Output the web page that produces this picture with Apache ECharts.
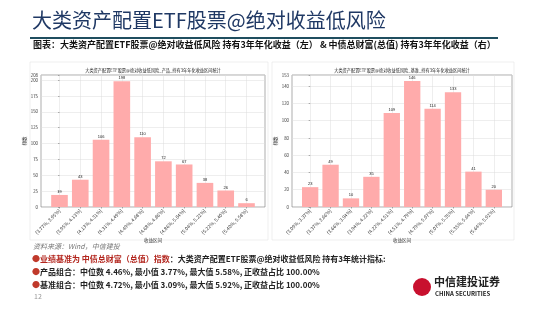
<!DOCTYPE html>
<html><head><meta charset="utf-8">
<script src="https://cdn.jsdelivr.net/npm/echarts@6/dist/echarts.min.js"></script>
<style>html,body{margin:0;padding:0;background:#fff}#c{width:550px;height:309px}</style>
</head><body><div id="c"></div>
<script>
const leftCategories = ['(3.77%, 3.95%]','(3.95%, 4.13%]','(4.13%, 4.31%]','(4.31%, 4.49%]','(4.49%, 4.68%]','(4.68%, 4.86%]','(4.86%, 5.04%]','(5.04%, 5.22%]','(5.22%, 5.40%]','(5.40%, 5.58%]'];
const leftCounts = [19, 43, 106, 198, 110, 72, 67, 38, 26, 6];
const rightCategories = ['(3.09%, 3.37%]','(3.37%, 3.66%]','(3.66%, 3.94%]','(3.94%, 4.22%]','(4.22%, 4.51%]','(4.51%, 4.79%]','(4.79%, 5.07%]','(5.07%, 5.35%]','(5.35%, 5.64%]','(5.64%, 5.92%]'];
const rightCounts = [23, 49, 10, 35, 109, 146, 114, 133, 41, 20];
const leftYMax = 208, leftYStep = 25;
const rightYMax = 153, rightYStep = 20;
const titleText = '大类资产配置ETF股票@绝对收益低风险';
const subtitleText = '图表：大类资产配置ETF股票@绝对收益低风险 持有3年年化收益（左） & 中债总财富(总值) 持有3年年化收益（右）';
const leftChartTitle = '大类资产配置ETF股票@绝对收益低风险_产品_持有3年年化收益区间统计';
const rightChartTitle = '大类资产配置ETF股票@绝对收益低风险_基准_持有3年年化收益区间统计';
const xName = '收益区间', yName = '频数';

const chart = echarts.init(document.getElementById('c'), null, {renderer:'canvas'});
const FONT = '"Noto Sans CJK SC", "Liberation Sans", sans-serif';
const idx = Array.from({length:10}, (_, i) => i);

function xAxisCfg(gi, cats) {
  return {
    type:'value', gridIndex: gi, min:-0.89, max:9.89,
    name: xName, nameLocation:'middle', nameGap: 29,
    nameTextStyle:{fontSize:4.5, color:'#333', fontFamily:FONT},
    axisLine:{show:false},
    axisTick:{show:true, length:1.5, customValues: idx, lineStyle:{color:'#666', width:0.5}},
    axisLabel:{customValues: idx, rotate:45, fontSize:4.8, color:'#333', margin:3, fontFamily:FONT,
      formatter: v => cats[Math.round(v)]},
    splitLine:{show:true, lineStyle:{color:'#ddd', width:0.5}}
  };
}
function yAxisCfg(gi, max, step) {
  return {
    type:'value', gridIndex: gi, min:0, max:max, interval:step,
    name: yName, nameLocation:'middle', nameGap: 14, nameRotate: 90,
    nameTextStyle:{fontSize:4.5, color:'#333', fontFamily:FONT},
    axisLine:{show:false},
    axisTick:{show:true, length:1.5, lineStyle:{color:'#666', width:0.5}},
    axisLabel:{fontSize:4.3, color:'#333', margin:3, fontFamily:FONT},
    splitLine:{show:true, lineStyle:{color:'#ddd', width:0.5}}
  };
}
function barSeries(gi, counts) {
  return {
    type:'bar', xAxisIndex: gi, yAxisIndex: gi, barWidth:'80%',
    data: counts.map((v, i) => [i, v]),
    itemStyle:{color:'#ffabab'},
    label:{show:true, position:'top', distance:1, fontSize:4, color:'#222', formatter: p => p.value[1]},
    silent:true
  };
}

const option = {
  animation:false,
  backgroundColor:'#fff',
  grid:[
    {left:41, right:550-265, top:75, bottom:102, show:true, borderColor:'#777', borderWidth:0.6, backgroundColor:'transparent'},
    {left:292, right:550-512, top:75, bottom:102, show:true, borderColor:'#777', borderWidth:0.6, backgroundColor:'transparent'}
  ],
  xAxis:[xAxisCfg(0, leftCategories), xAxisCfg(1, rightCategories)],
  yAxis:[yAxisCfg(0, leftYMax, leftYStep), yAxisCfg(1, rightYMax, rightYStep)],
  series:[barSeries(0, leftCounts), barSeries(1, rightCounts)],
  graphic:[
    {type:'text', left:32, top:10, style:{text:titleText, fontSize:20, fontFamily:FONT, fill:'#1f3864', fontWeight:'normal'}},
    {type:'rect', shape:{x:30, y:37, width:468, height:2}, style:{fill:'#1f4e5f'}},
    {type:'text', left:33, top:40, style:{text:subtitleText, fontSize:9, fontWeight:'bold', fontFamily:FONT, fill:'#111'}},
    {type:'rect', shape:{x:30, y:62, width:238, height:178}, style:{fill:'none', stroke:'#e4e4e4', lineWidth:0.6}},
    {type:'rect', shape:{x:272, y:62, width:242, height:178}, style:{fill:'none', stroke:'#e4e4e4', lineWidth:0.6}},
    {type:'text', x:153, y:70, style:{text:leftChartTitle, fontSize:4.2, fontFamily:FONT, fill:'#222', align:'center', verticalAlign:'middle'}},
    {type:'text', x:402, y:70, style:{text:rightChartTitle, fontSize:4.2, fontFamily:FONT, fill:'#222', align:'center', verticalAlign:'middle'}},
    {type:'text', left:33, top:243, style:{text:'资料来源：Wind，中信建投', fontSize:7, fontStyle:'italic', fontFamily:FONT, fill:'#777'}},
    {type:'text', left:32, top:255, style:{
      text:'{b|●}{r|业绩基准为 中债总财富（总值）指数}{k|：大类资产配置ETF股票@绝对收益低风险 持有3年统计指标:}',
      rich:{
        b:{fontSize:8, fill:'#c0392b', fontFamily:FONT},
        r:{fontSize:8, fontWeight:'bold', fill:'#b3261e', fontFamily:FONT},
        k:{fontSize:8, fontWeight:'bold', fill:'#222', fontFamily:FONT}
      }}},
    {type:'text', left:32, top:268, style:{
      text:'{b|●}{k|产品组合：中位数 4.46%, 最小值 3.77%, 最大值 5.58%, 正收益占比 100.00%}',
      rich:{b:{fontSize:8, fill:'#c0392b', fontFamily:FONT}, k:{fontSize:8, fontWeight:'bold', fill:'#222', fontFamily:FONT}}}},
    {type:'text', left:32, top:281, style:{
      text:'{b|●}{k|基准组合：中位数 4.72%, 最小值 3.09%, 最大值 5.92%, 正收益占比 100.00%}',
      rich:{b:{fontSize:8, fill:'#c0392b', fontFamily:FONT}, k:{fontSize:8, fontWeight:'bold', fill:'#222', fontFamily:FONT}}}},
    {type:'text', left:34, top:293, style:{text:'12', fontSize:7, fontFamily:FONT, fill:'#999'}},
    {type:'circle', shape:{cx:422, cy:287, r:9}, style:{fill:'#c8102e'}},
    {type:'text', left:434, top:276, style:{text:'中信建投证券', fontSize:11, fontWeight:'bold', fontFamily:FONT, fill:'#222'}},
    {type:'text', left:435, top:291, style:{text:'CHINA SECURITIES', fontSize:6, fontWeight:'bold', fontFamily:FONT, fill:'#222'}}
  ]
};
chart.setOption(option);
</script></body></html>
